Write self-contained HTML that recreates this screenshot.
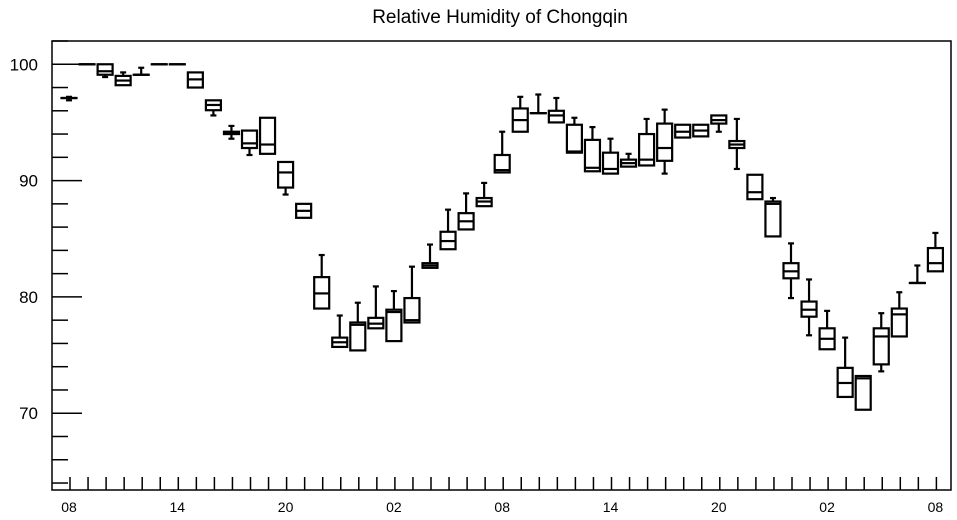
<!DOCTYPE html>
<html><head><meta charset="utf-8">
<style>
body{margin:0;background:#fff;}
svg{display:block;font-family:"Liberation Sans",Arial,sans-serif;}
</style></head>
<body>
<svg id="chart" width="957" height="520" viewBox="0 0 957 520" xmlns="http://www.w3.org/2000/svg">
<text x="500" y="23" font-size="19" text-anchor="middle">Relative Humidity of Chongqin</text>
<rect x="52" y="41" width="899" height="449" fill="none" stroke="#000" stroke-width="1.5"/>
<g id="axes"></g>
<g id="candles"></g>
</svg>
<script>
const hourLabels = ["08","14","20","02","08","14","20","02","08"];
const yTicks = [70,80,90,100];
const mins   = [96.9,100,98.9,98.2,99.1,100,100,98.0,95.6,93.6,92.2,92.3,88.8,86.8,79.0,75.7,75.4,77.3,76.2,77.8,82.5,84.1,85.8,87.8,90.7,94.2,95.8,95.0,92.4,90.8,90.6,91.2,91.3,90.6,93.7,93.8,94.2,91.0,88.4,85.2,79.9,76.7,75.5,71.4,70.3,73.6,76.6,81.2,82.2];
const q1s    = [97.1,100,99.1,98.2,99.1,100,100,98.0,96.05,94.0,92.8,92.3,89.4,86.8,79.0,75.7,75.4,77.3,76.2,77.8,82.5,84.1,85.8,87.8,90.7,94.2,95.8,95.0,92.4,90.8,90.6,91.2,91.3,91.7,93.7,93.8,94.9,92.8,88.4,85.2,81.6,78.3,75.5,71.4,70.3,74.2,76.6,81.2,82.2];
const medians= [97.1,100,99.4,98.6,99.1,100,100,98.7,96.5,94.1,93.2,93.1,90.7,87.4,80.3,76.1,77.6,77.7,78.7,78.0,82.7,84.8,86.5,88.2,90.9,95.2,95.8,95.6,92.5,91.1,91.0,91.5,91.8,92.8,94.2,94.3,95.2,93.1,89.0,88.0,82.2,78.9,76.4,72.6,73.0,76.6,78.5,81.2,82.9];
const q3s    = [97.1,100,100,99.0,99.1,100,100,99.3,96.9,94.2,94.3,95.4,91.6,88.0,81.7,76.5,77.8,78.2,78.9,79.9,82.9,85.6,87.2,88.5,92.2,96.2,95.8,96.0,94.8,93.5,92.4,91.8,94.0,94.9,94.8,94.8,95.6,93.4,90.5,88.2,82.9,79.6,77.3,73.9,73.2,77.3,79.0,81.2,84.2];
const maxs   = [97.2,100,100,99.3,99.7,100,100,99.3,96.9,94.7,94.3,95.4,91.6,88.0,83.6,78.4,79.5,80.9,80.5,82.6,84.5,87.5,88.9,89.8,94.2,97.2,97.4,97.1,95.4,94.6,93.6,92.3,95.3,96.1,94.8,94.8,95.6,95.3,90.5,88.5,84.6,81.5,78.8,76.5,73.2,78.6,80.4,82.7,85.5];

const NS="http://www.w3.org/2000/svg";
const X0=52,X1=951,Y0=41,Y1=490;
const yMin=63.4,yMax=102.0;
function yScale(v){return Y1-(v-yMin)/(yMax-yMin)*(Y1-Y0);}
function xScale(i){return 69+i*18.05;}
function mk(tag,attrs,parent){const e=document.createElementNS(NS,tag);for(const k in attrs)e.setAttribute(k,attrs[k]);parent.appendChild(e);return e;}
const axes=document.getElementById('axes');
const cg=document.getElementById('candles');
// y minor ticks
for(let v=64;v<=102;v+=2){
  const major=yTicks.indexOf(v)>=0;
  const t=mk('line',{x1:X0,x2:X0+(major?30:16),y1:yScale(v),y2:yScale(v),stroke:'#000','stroke-width':1.5},axes);
  
  
}
yTicks.forEach(v=>{
  const t=mk('text',{x:38,y:yScale(v)+6,'font-size':17,'text-anchor':'end'},axes);
  t.textContent=v;
  
  
});
// x ticks
for(let i=0;i<mins.length;i++){
  const t=mk('line',{x1:xScale(i)+1,x2:xScale(i)+1,y1:Y1,y2:Y1-13,stroke:'#000','stroke-width':1.5},axes);
  
  
}
hourLabels.forEach((s,k)=>{
  const t=mk('text',{x:xScale(k*6),y:512,'font-size':14,'text-anchor':'middle'},axes);
  t.textContent=s;
  
  
});
// candles
const bw=15,cap=3;
for(let i=0;i<mins.length;i++){
  const g=mk('g',{},cg);
  
  
  const x=xScale(i);
  const yq3=yScale(q3s[i]),yq1=yScale(q1s[i]),ymed=yScale(medians[i]),ymax=yScale(maxs[i]),ymin=yScale(mins[i]);
  const st={stroke:'#000','stroke-width':2.2,fill:'none'};
  if(maxs[i]>q3s[i]){
    mk('line',Object.assign({x1:x,x2:x,y1:ymax,y2:yq3},st),g);
    mk('line',Object.assign({x1:x-cap,x2:x+cap,y1:ymax,y2:ymax},st),g);
  }
  if(mins[i]<q1s[i]){
    mk('line',Object.assign({x1:x,x2:x,y1:yq1,y2:ymin},st),g);
    mk('line',Object.assign({x1:x-cap,x2:x+cap,y1:ymin,y2:ymin},st),g);
  }
  mk('rect',Object.assign({x:x-bw/2,y:yq3,width:bw,height:Math.max(0.1,yq1-yq3)},st),g);
  mk('line',Object.assign({x1:x-bw/2,x2:x+bw/2,y1:ymed,y2:ymed},st),g);
}
</script>
</body></html>
